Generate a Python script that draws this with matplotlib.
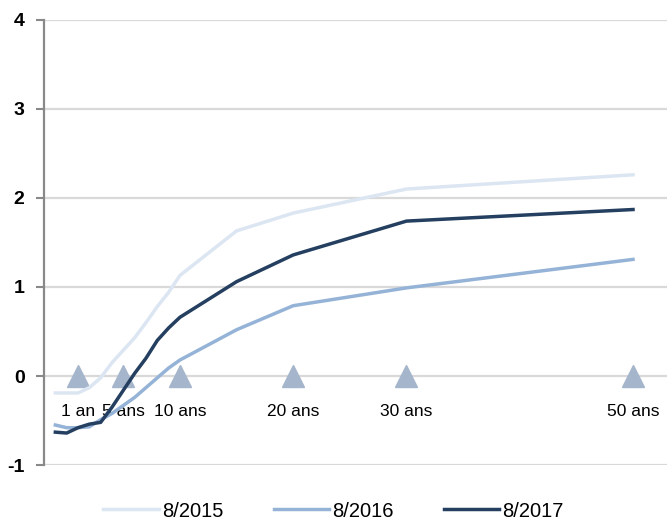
import matplotlib.pyplot as plt

plt.rcParams['font.family'] = ['Liberation Sans', 'DejaVu Sans']

# maturities (years) and yield curves
maturities = [-1, 0, 1, 2, 3, 4, 5, 6, 7, 8, 9, 10, 15, 20, 30, 50]
curve_2015 = [-0.19, -0.19, -0.19, -0.13, -0.02, 0.15, 0.29, 0.43, 0.60, 0.78, 0.94, 1.13, 1.63, 1.83, 2.10, 2.26]
curve_2016 = [-0.55, -0.58, -0.58, -0.57, -0.49, -0.42, -0.33, -0.24, -0.13, -0.02, 0.09, 0.18, 0.52, 0.79, 0.99, 1.31]
curve_2017 = [-0.63, -0.64, -0.58, -0.54, -0.52, -0.35, -0.16, 0.03, 0.20, 0.40, 0.54, 0.66, 1.06, 1.36, 1.74, 1.87]
series_names = ['8/2015', '8/2016', '8/2017']

# reference maturities marked on the zero line
marker_years = [1, 5, 10, 20, 30, 50]
marker_labels = ['1 an', '5 ans', '10 ans', '20 ans', '30 ans', '50 ans']

colors = ['#dce6f2', '#95b3d7', '#243f60']

fig = plt.figure(figsize=(6.67, 5.22), dpi=100)
ax = fig.add_axes([0.066, 0.109, 0.934, 0.853])

for y in range(-1, 5):
    ax.axhline(y, color='#d9d9d9', lw=1.6, zorder=0)

ax.plot(marker_years, [0] * len(marker_years), ls='none', marker='^',
        ms=16, color='#a5b5cb', zorder=2)
for yr, lab in zip(marker_years, marker_labels):
    ax.text(yr, -0.40, lab, ha='center', va='center', fontsize=12.5, zorder=3)

for vals, name, c in zip([curve_2015, curve_2016, curve_2017], series_names, colors):
    ax.plot(maturities, vals, color=c, lw=2.5, label=name, zorder=4)

ax.set_xlim(-2, 53)
ax.set_ylim(-1, 4)
ax.set_xticks([])
ax.set_yticks(range(-1, 5))
ax.set_yticklabels([str(v) for v in range(-1, 5)], fontsize=14, fontweight='bold')
ax.tick_params(axis='y', length=6, width=1.5, color='#898989', pad=8)

for side in ['top', 'right', 'bottom']:
    ax.spines[side].set_visible(False)
ax.spines['left'].set_color('#898989')
ax.spines['left'].set_linewidth(1.6)

fig.legend(loc='center', bbox_to_anchor=(0.5, 0.021), ncol=3, frameon=False,
           fontsize=14.5, handlelength=2.75, handletextpad=0.15, columnspacing=2.5)

plt.savefig('out.png', dpi=100)
